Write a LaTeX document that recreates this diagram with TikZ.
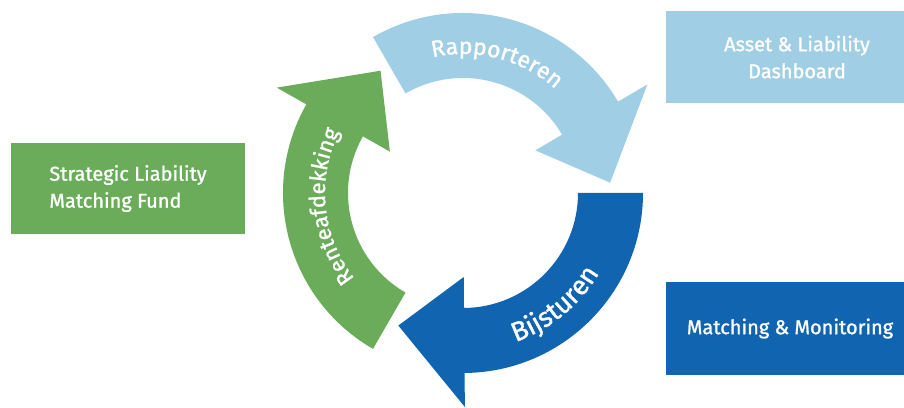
\documentclass[tikz,border=0pt]{standalone}
\usepackage{fontspec}
\setmainfont{Fira Sans}[FakeBold=1.2]
\newfontfamily\medfont{Fira Sans}[FakeBold=1.2]
\usetikzlibrary{decorations.text}
\definecolor{cgreen}{HTML}{6AAC5A}
\definecolor{clight}{HTML}{A0CEE4}
\definecolor{cdark}{HTML}{1064B0}
\newcommand{\ringarrow}[2]{%
  \fill[#2] (#1:180pt) arc[start angle=#1, end angle={#1-89.5}, radius=180pt]
    -- ({#1-89.5}:214pt) -- ({#1-116}:147.5pt) -- ({#1-89.5}:84pt)
    -- ({#1-89.5}:115pt) arc[start angle={#1-89.5}, end angle=#1, radius=115pt] -- cycle;}
\tikzset{
  box/.style={rectangle, inner sep=0pt, text=white, font=\medfont\fontsize{20pt}{27pt}\selectfont},
  arctext/.style={decorate, decoration={text along path, text align=center, text color=white, text={#1}}}
}
\begin{document}
\begin{tikzpicture}[x=1pt,y=1pt]
\useasboundingbox (0,0) rectangle (904,407);
\clip (0,0) rectangle (904,407);
\node[box, fill=cgreen, minimum width=234pt, minimum height=91pt, align=left] (slmf) at (128,218.5) {Strategic Liability\\Matching Fund};
\node[box, fill=clight, minimum width=262pt, minimum height=92pt, align=center] (ald) at (797,350) {Asset \& Liability\\Dashboard};
\node[box, fill=cdark, minimum width=248pt, minimum height=93pt] (mm) at (790,78.5) {Matching \& Monitoring};
\begin{scope}[shift={(463,214)}]
  \ringarrow{120}{clight}
  \ringarrow{240}{cgreen}
  \ringarrow{360}{cdark}
  \path[arctext={|\medfont\fontsize{23pt}{23pt}\selectfont|Rapporteren}] (140:139pt) arc[start angle=140, end angle=11, radius=139pt];
  \path[arctext={|\medfont\fontsize{22pt}{22pt}\selectfont|Renteafdekking}] (230:138pt) arc[start angle=230, end angle=142, radius=138pt];
  \path[arctext={|\medfont\fontsize{27pt}{27pt}\selectfont|Bijsturen}] (-95:158pt) arc[start angle=-95, end angle=-6, radius=158pt];
\end{scope}
\end{tikzpicture}
\end{document}
